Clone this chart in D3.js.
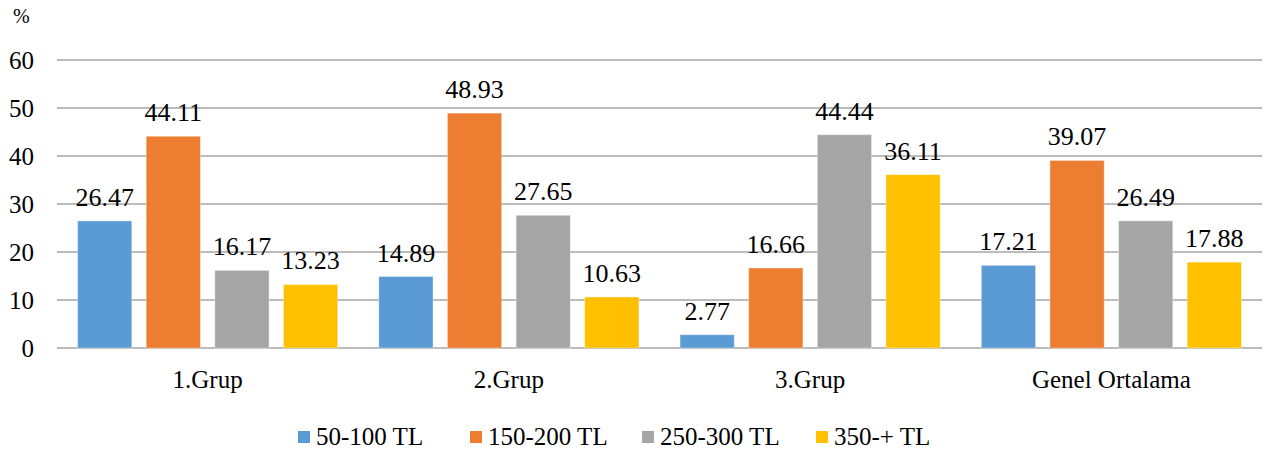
<!DOCTYPE html>
<html><head><meta charset="utf-8">
<script src="https://cdn.jsdelivr.net/npm/d3@7"></script>
<style>body{margin:0;background:#fff}svg{display:block}svg text{font-family:"Liberation Serif",Tinos,"Noto Serif","DejaVu Serif","Times New Roman",Times,serif}</style>
</head><body>
<svg id="c" width="1266" height="452"></svg>
<script>
const categories = ["1.Grup", "2.Grup", "3.Grup", "Genel Ortalama"];
const seriesNames = ["50-100 TL", "150-200 TL", "250-300 TL", "350-+ TL"];
const s50_100 = [26.47, 14.89, 2.77, 17.21];
const s150_200 = [44.11, 48.93, 16.66, 39.07];
const s250_300 = [16.17, 27.65, 44.44, 26.49];
const s350 = [13.23, 10.63, 36.11, 17.88];
const yTicks = [0, 10, 20, 30, 40, 50, 60];
const colors = ["#5B9BD5", "#ED7D31", "#A5A5A5", "#FFC000"];
const seriesValues = [s50_100, s150_200, s250_300, s350];

const svg = d3.select("#c");
const m = {left: 57, right: 1262, top: 60, bottom: 348};
const x0 = d3.scaleBand().domain(categories).range([m.left, m.right]).paddingInner(0).paddingOuter(0);
const x1 = d3.scaleBand().domain(seriesNames).range([0, x0.bandwidth()]).paddingInner(0.21).paddingOuter(0.30);
const y = d3.scaleLinear().domain([0, 60]).range([m.bottom, m.top]);

svg.append("g").selectAll("line").data(yTicks).join("line")
  .attr("x1", m.left).attr("x2", m.right)
  .attr("y1", d => y(d)).attr("y2", d => y(d))
  .attr("stroke", "#a6a6a6").attr("stroke-width", 1.3);

svg.append("g").selectAll("text").data(yTicks).join("text")
  .attr("x", 34).attr("y", d => y(d)).attr("dy", "0.35em")
  .attr("text-anchor", "end").attr("font-size", 25).text(d => d);

svg.append("text").attr("x", 13).attr("y", 23).attr("font-size", 20).text("%");

const data = [];
categories.forEach((c, i) => seriesNames.forEach((s, j) => data.push({c, s, j, v: seriesValues[j][i]})));
svg.append("g").selectAll("rect").data(data).join("rect")
  .attr("x", d => x0(d.c) + x1(d.s)).attr("width", x1.bandwidth())
  .attr("y", d => y(d.v)).attr("height", d => y(0) - y(d.v))
  .attr("fill", d => colors[d.j]).attr("stroke", "#fff").attr("stroke-opacity", 0.35).attr("stroke-width", 1);

svg.append("g").selectAll("text").data(data).join("text")
  .attr("x", d => x0(d.c) + x1(d.s) + x1.bandwidth() / 2)
  .attr("y", d => y(d.v) - 15)
  .attr("text-anchor", "middle").attr("font-size", 26).text(d => d.v.toFixed(2));

svg.append("g").selectAll("text").data(categories).join("text")
  .attr("x", d => x0(d) + x0.bandwidth() / 2).attr("y", 388)
  .attr("text-anchor", "middle").attr("font-size", 25).text(d => d);

const legX = [298, 470, 642, 816];
const lg = svg.append("g").selectAll("g").data(seriesNames).join("g")
  .attr("transform", (d, i) => `translate(${legX[i]},0)`);
lg.append("rect").attr("x", 0).attr("y", 431).attr("width", 12).attr("height", 12).attr("fill", (d, i) => colors[i]);
lg.append("text").attr("x", 18).attr("y", 445).attr("font-size", 25).text(d => d);
</script>
</body></html>
